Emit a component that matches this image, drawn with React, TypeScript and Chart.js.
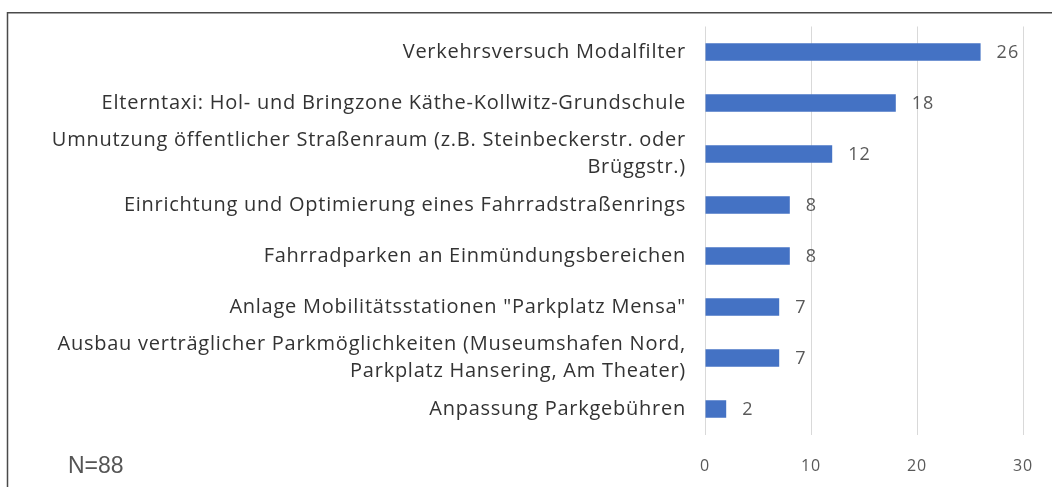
import React, { useEffect, useRef } from "react";
import { Chart, registerables } from "chart.js";

Chart.register(...registerables);

const categories: (string | string[])[] = [
  "Verkehrsversuch Modalfilter",
  "Elterntaxi: Hol- und Bringzone Käthe-Kollwitz-Grundschule",
  ["Umnutzung öffentlicher Straßenraum (z.B. Steinbeckerstr. oder", "Brüggstr.)"],
  "Einrichtung und Optimierung eines Fahrradstraßenrings",
  "Fahrradparken an Einmündungsbereichen",
  "Anlage Mobilitätsstationen \"Parkplatz Mensa\"",
  ["Ausbau verträglicher Parkmöglichkeiten (Museumshafen Nord,", "Parkplatz Hansering, Am Theater)"],
  "Anpassung Parkgebühren",
];
const values: number[] = [26, 18, 12, 8, 8, 7, 7, 2];
const xTicks: number[] = [0, 10, 20, 30];
const noteText = "N=88";

const LABEL_FONT = "'Open Sans', Lato, sans-serif";

export default function App() {
  const ref = useRef<HTMLCanvasElement | null>(null);

  useEffect(() => {
    document.body.style.margin = "0";
    const canvas = ref.current;
    if (!canvas) return;

    const spacingPlugin = {
      id: "spacing",
      beforeDraw(chart: any) {
        chart.ctx.letterSpacing = "0.75px";
      },
      beforeDatasetsDraw(chart: any) {
        chart.ctx.letterSpacing = "0px";
      },
    };

    const framePlugin = {
      id: "frame",
      afterDraw(chart: any) {
        const ctx = chart.ctx;
        ctx.save();
        ctx.letterSpacing = "0px";
        ctx.strokeStyle = "#4a4a4a";
        ctx.lineWidth = 1.5;
        ctx.beginPath();
        ctx.moveTo(7.5, 487);
        ctx.lineTo(7.5, 12.75);
        ctx.lineTo(1052, 12.75);
        ctx.stroke();
        ctx.fillStyle = "#555555";
        ctx.font = "23px 'Liberation Sans', Arial, sans-serif";
        ctx.textBaseline = "alphabetic";
        ctx.textAlign = "left";
        ctx.fillText(noteText, 68, 473);
        ctx.restore();
      },
    };

    const valueLabels = {
      id: "valueLabels",
      afterDatasetsDraw(chart: any) {
        const ctx = chart.ctx;
        const meta = chart.getDatasetMeta(0);
        ctx.save();
        ctx.letterSpacing = "1px";
        ctx.fillStyle = "#595959";
        ctx.font = "18px " + LABEL_FONT;
        ctx.textAlign = "left";
        ctx.textBaseline = "middle";
        meta.data.forEach((bar: any, i: number) => {
          ctx.fillText(String(values[i]), bar.x + 16, bar.y + 1);
        });
        ctx.restore();
      },
    };

    const chart = new Chart(canvas, {
      type: "bar",
      data: {
        labels: categories,
        datasets: [
          {
            data: values,
            backgroundColor: "#4472C4",
            borderWidth: 0,
            barPercentage: 0.345,
            categoryPercentage: 1,
          },
        ],
      },
      options: {
        indexAxis: "y",
        responsive: false,
        animation: false,
        layout: { padding: { top: 26.5, right: 29, left: 10, bottom: 0 } },
        plugins: {
          legend: { display: false },
          tooltip: { enabled: false },
        },
        scales: {
          x: {
            min: 0,
            max: 30,
            afterBuildTicks(scale: any) {
              scale.ticks = xTicks.map((v) => ({ value: v }));
            },
            grid: { color: "#d9d9d9", lineWidth: 1, drawTicks: false },
            border: { display: false },
            ticks: {
              color: "#595959",
              font: { family: LABEL_FONT, size: 16 },
              padding: 22,
            },
            afterFit(scale: any) {
              scale.height = 52.5;
              scale.paddingLeft = 0;
              scale.paddingRight = 0;
            },
          },
          y: {
            grid: { display: false, drawTicks: false },
            border: { display: false },
            ticks: {
              color: "#333333",
              font: { family: LABEL_FONT, size: 20, lineHeight: 1.35 },
              padding: 19,
              autoSkip: false,
            },
            afterFit(scale: any) {
              scale.width = 695;
              scale.paddingTop = 0;
              scale.paddingBottom = 0;
            },
          },
        },
      },
      plugins: [spacingPlugin, framePlugin, valueLabels],
    });

    return () => chart.destroy();
  }, []);

  return (
    <div style={{ position: "fixed", left: 0, top: 0, width: 1052, height: 487 }}>
      <canvas ref={ref} width={1052} height={487} />
    </div>
  );
}
